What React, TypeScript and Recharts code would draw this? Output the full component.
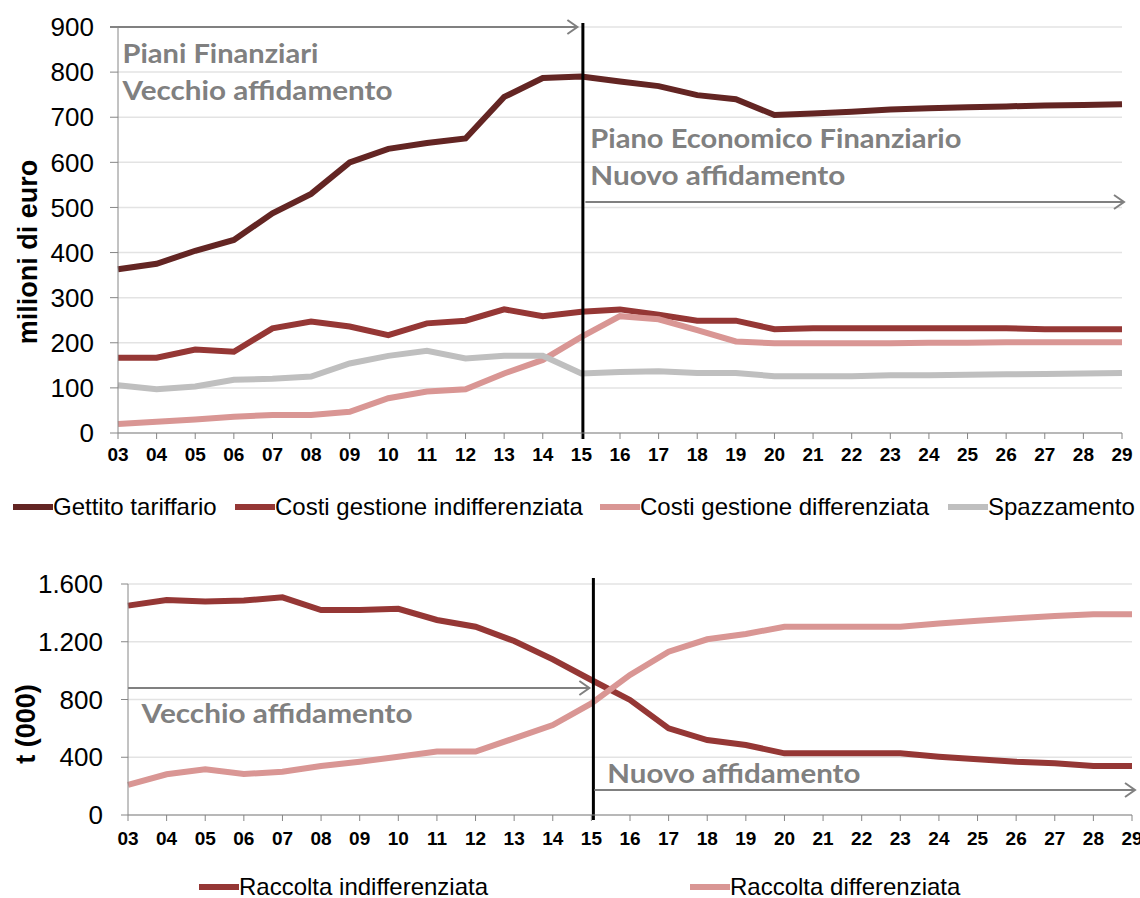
import { LineChart, Line, XAxis, YAxis, CartesianGrid, ReferenceLine, Legend, Label } from 'recharts';

const years = ['03', '04', '05', '06', '07', '08', '09', '10', '11', '12', '13', '14', '15', '16', '17', '18', '19', '20', '21', '22', '23', '24', '25', '26', '27', '28', '29'];

// milioni di euro
const gettito = [363, 375, 404, 428, 487, 530, 600, 630, 643, 653, 745, 787, 790, 779, 769, 749, 740, 705, 708, 712, 717, 720, 722, 724, 726, 727, 729];
const costiIndiff = [167, 167, 185, 180, 232, 247, 236, 217, 243, 249, 274, 259, 269, 274, 262, 249, 249, 230, 232, 232, 232, 232, 232, 232, 230, 230, 230];
const costiDiff = [20, 25, 30, 36, 40, 40, 47, 77, 92, 97, 132, 162, 213, 259, 252, 228, 203, 199, 199, 199, 199, 200, 200, 201, 201, 201, 201];
const spazzamento = [106, 97, 103, 118, 120, 125, 154, 171, 182, 165, 171, 171, 132, 135, 137, 133, 133, 126, 126, 126, 128, 128, 129, 130, 131, 132, 133];

// t (000)
const raccoltaIndiff = [1450, 1489, 1478, 1485, 1508, 1420, 1420, 1428, 1351, 1304, 1205, 1078, 935, 797, 600, 519, 485, 427, 427, 427, 427, 404, 386, 369, 358, 339, 339];
const raccoltaDiff = [208, 282, 316, 284, 300, 339, 369, 404, 439, 439, 531, 623, 773, 970, 1131, 1217, 1254, 1304, 1304, 1304, 1304, 1327, 1346, 1362, 1378, 1390, 1390];

const topNames = ['Gettito tariffario', 'Costi gestione indifferenziata', 'Costi gestione differenziata', 'Spazzamento'];
const bottomNames = ['Raccolta indifferenziata', 'Raccolta differenziata'];

const topTicks = [0, 100, 200, 300, 400, 500, 600, 700, 800, 900];
const bottomTicks = [0, 400, 800, 1200, 1600];

const topData = years.map((year, i) => ({
  year,
  gettito: gettito[i],
  costiIndiff: costiIndiff[i],
  costiDiff: costiDiff[i],
  spazzamento: spazzamento[i],
}));

const bottomData = years.map((year, i) => ({
  year,
  raccoltaIndiff: raccoltaIndiff[i],
  raccoltaDiff: raccoltaDiff[i],
}));

const ARIAL = '"Liberation Sans", Arial, sans-serif';
const CALIBRI = 'Lato, "Open Sans", sans-serif';
const GREY = '#808080';
const AXIS = '#868686';

const fmtThousands = (v: number) => String(v).replace(/\B(?=(\d{3})+(?!\d))/g, '.');

type Note = { text: string; dx: number; dy: number; width: number };

function arrowShape(notes: Note[], startPad = 0, endPad = 0) {
  return (p: any) => {
    const x1 = p.x1 + startPad;
    const x2 = p.x2 + endPad;
    const y = p.y1;
    return (
      <g>
        <line x1={x1} y1={y} x2={x2} y2={y} stroke={GREY} strokeWidth={2} />
        <polyline points={`${x2 - 10},${y - 7} ${x2},${y} ${x2 - 10},${y + 7}`} fill="none" stroke={GREY} strokeWidth={2} />
        {notes.map((n) => (
          <text
            key={n.text}
            x={p.x1 + n.dx}
            y={y + n.dy}
            fill={GREY}
            fontFamily={CALIBRI}
            fontWeight={700}
            fontSize={27}
            textLength={n.width}
            lengthAdjust="spacingAndGlyphs"
          >
            {n.text}
          </text>
        ))}
      </g>
    );
  };
}

function dividerShape(up: number, down: number, shift: number) {
  return (p: any) => (
    <line x1={p.x1 + shift} x2={p.x2 + shift} y1={Math.min(p.y1, p.y2) - up} y2={Math.max(p.y1, p.y2) + down} stroke="#000" strokeWidth={3} />
  );
}

function legendContent(order: string[], lefts: number[]) {
  return (props: any) => {
    const items = order.map((name) => (props.payload || []).find((e: any) => e.value === name)).filter(Boolean);
    return (
      <div style={{ position: 'relative', width: 1140, height: 28 }}>
        {items.map((e: any, i: number) => (
          <div
            key={e.value}
            style={{ position: 'absolute', left: lefts[i], top: 0, height: 28, display: 'flex', alignItems: 'center', whiteSpace: 'nowrap' }}
          >
            <span style={{ display: 'inline-block', width: 40, height: 6, background: e.color }} />
            <span style={{ fontFamily: ARIAL, fontSize: 24, color: '#000', lineHeight: '28px' }}>{e.value}</span>
          </div>
        ))}
      </div>
    );
  };
}

export default function App() {
  return (
    <div style={{ position: 'absolute', left: 0, top: 0, width: 1140, height: 898, background: '#fff' }}>
      <div style={{ position: 'absolute', left: 0, top: 0 }}>
        <LineChart width={1140} height={540} data={topData} margin={{ top: 27, right: 18, left: 0, bottom: 77 }}>
          <CartesianGrid vertical={false} stroke="#e3e3e3" strokeWidth={1.5} />
          <XAxis
            dataKey="year"
            height={30}
            interval={0}
            stroke={AXIS}
            tickSize={6}
            tickMargin={9}
            tick={{ fontFamily: ARIAL, fontSize: 19, fontWeight: 700, fill: '#000' }}
          />
          <YAxis
            width={118}
            domain={[0, 900]}
            ticks={topTicks}
            interval={0}
            stroke={AXIS}
            tickSize={8}
            tickMargin={16}
            tick={{ fontFamily: ARIAL, fontSize: 26, fill: '#000' }}
          >
            <Label
              content={() => (
                <text x={28} y={252} transform="rotate(-90 28 252)" textAnchor="middle" dominantBaseline="central" fontFamily={ARIAL} fontSize={27} fontWeight={700} fill="#000">
                  milioni di euro
                </text>
              )}
            />
          </YAxis>
          <Line type="linear" dataKey="gettito" name={topNames[0]} stroke="#632523" strokeWidth={6} dot={false} isAnimationActive={false} />
          <Line type="linear" dataKey="costiIndiff" name={topNames[1]} stroke="#953735" strokeWidth={6} dot={false} isAnimationActive={false} />
          <Line type="linear" dataKey="costiDiff" name={topNames[2]} stroke="#D99694" strokeWidth={6} dot={false} isAnimationActive={false} />
          <Line type="linear" dataKey="spazzamento" name={topNames[3]} stroke="#BFBFBF" strokeWidth={6} dot={false} isAnimationActive={false} />
          <ReferenceLine x="15" shape={dividerShape(4, 6, 1.5)} />
          <ReferenceLine
            segment={[{ x: '03', y: 900 }, { x: '15', y: 900 }]}
            shape={arrowShape(
              [
                { text: 'Piani Finanziari', dx: 4.5, dy: 36, width: 196 },
                { text: 'Vecchio affidamento', dx: 4.5, dy: 73, width: 270 },
              ],
              -8,
              -4,
            )}
          />
          <ReferenceLine
            segment={[{ x: '15', y: 512 }, { x: '29', y: 512 }]}
            shape={arrowShape(
              [
                { text: 'Piano Economico Finanziario', dx: 9, dy: -54, width: 371 },
                { text: 'Nuovo affidamento', dx: 9, dy: -17, width: 255 },
              ],
              4,
              2,
            )}
          />
          <Legend
            layout="horizontal"
            verticalAlign="middle"
            align="center"
            wrapperStyle={{ position: 'absolute', top: 493, left: 0, width: 1140, height: 28 }}
            content={legendContent(topNames, [13, 235, 600, 948])}
          />
        </LineChart>
      </div>
      <div style={{ position: 'absolute', left: 0, top: 540 }}>
        <LineChart width={1140} height={358} data={bottomData} margin={{ top: 44, right: 8, left: 0, bottom: 53 }}>
          <CartesianGrid vertical={false} stroke="#e3e3e3" strokeWidth={1.5} />
          <XAxis
            dataKey="year"
            height={30}
            interval={0}
            stroke={AXIS}
            tickSize={6}
            tickMargin={11}
            tick={{ fontFamily: ARIAL, fontSize: 19, fontWeight: 700, fill: '#000' }}
          />
          <YAxis
            width={128}
            domain={[0, 1600]}
            ticks={bottomTicks}
            interval={0}
            stroke={AXIS}
            tickSize={7}
            tickMargin={18}
            tickFormatter={fmtThousands}
            tick={{ fontFamily: ARIAL, fontSize: 26, fill: '#000' }}
          >
            <Label
              content={() => (
                <text x={26} y={184} transform="rotate(-90 26 184)" textAnchor="middle" dominantBaseline="central" fontFamily={ARIAL} fontSize={27} fontWeight={700} fill="#000">
                  t (000)
                </text>
              )}
            />
          </YAxis>
          <Line type="linear" dataKey="raccoltaIndiff" name={bottomNames[0]} stroke="#953735" strokeWidth={6} dot={false} isAnimationActive={false} />
          <Line type="linear" dataKey="raccoltaDiff" name={bottomNames[1]} stroke="#D99694" strokeWidth={6} dot={false} isAnimationActive={false} />
          <ReferenceLine x="15" shape={dividerShape(6, 5, 2)} />
          <ReferenceLine
            segment={[{ x: '03', y: 880 }, { x: '15', y: 880 }]}
            shape={arrowShape([{ text: 'Vecchio affidamento', dx: 13.6, dy: 35, width: 271 }], 0, -2)}
          />
          <ReferenceLine
            segment={[{ x: '15', y: 173 }, { x: '29', y: 173 }]}
            shape={arrowShape([{ text: 'Nuovo affidamento', dx: 16, dy: -7, width: 253 }], 3, 3)}
          />
          <Legend
            layout="horizontal"
            verticalAlign="middle"
            align="center"
            wrapperStyle={{ position: 'absolute', top: 333, left: 0, width: 1140, height: 28 }}
            content={legendContent(bottomNames, [199, 690])}
          />
        </LineChart>
      </div>
    </div>
  );
}
